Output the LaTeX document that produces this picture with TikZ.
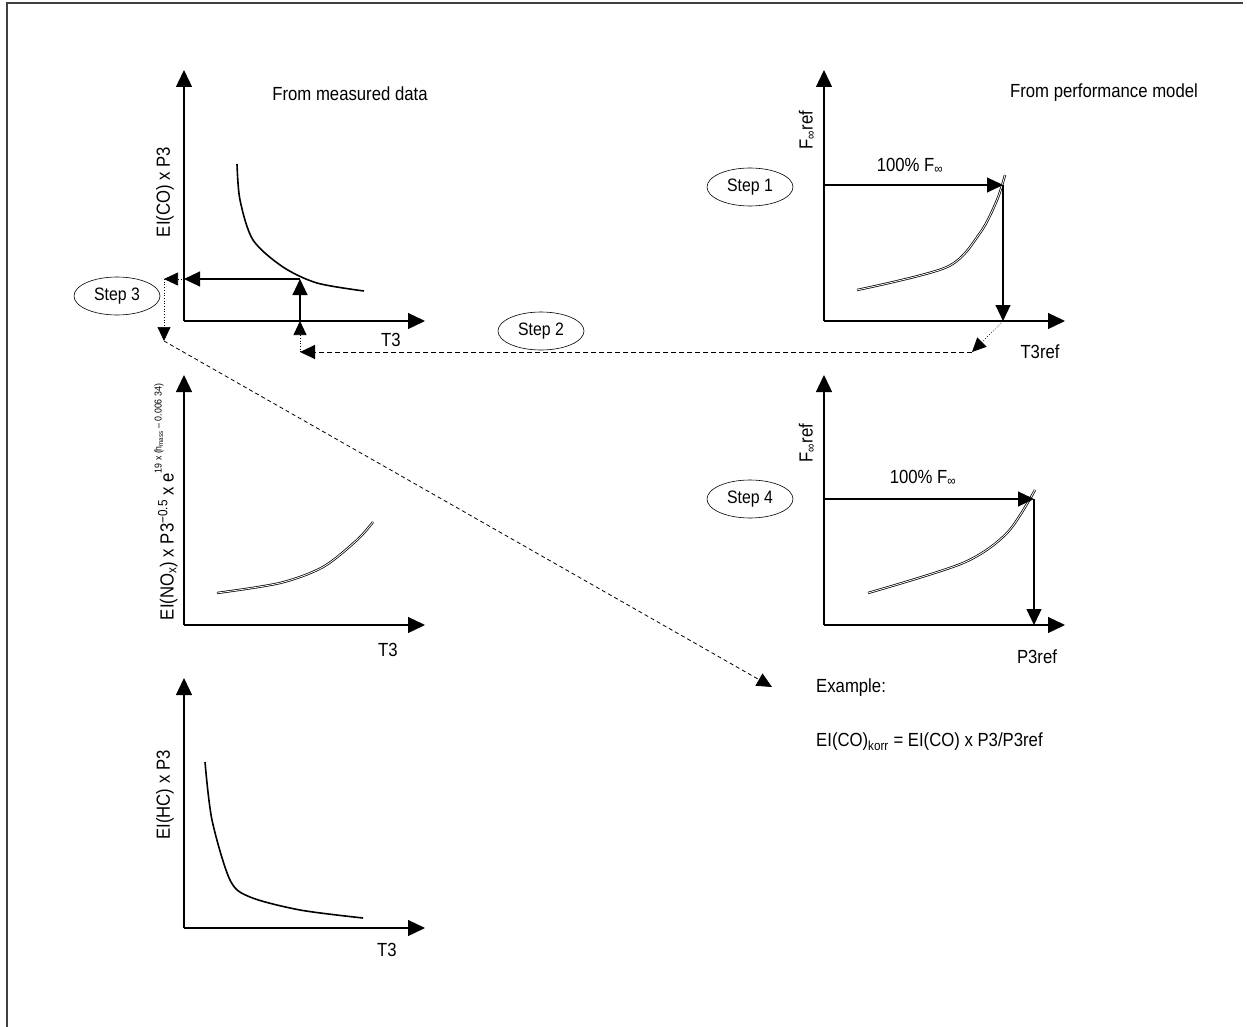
\documentclass[tikz,border=0pt]{standalone}
\usepackage{fontspec}
\setmainfont{Liberation Sans}[FakeStretch=0.88]
\usetikzlibrary{arrows.meta,shapes.geometric}

\begin{document}
\begin{tikzpicture}[x=1pt, y=-1pt,
        every node/.style={font=\fontsize{19}{22}\selectfont, inner sep=1pt},
        axis/.style={line width=1.3pt, -{Triangle[length=17pt,width=16pt]}},
        guide/.style={line width=1.1pt, -{Triangle[length=16pt,width=15pt]}},
        hint/.style={line width=0.7pt, dotted, -{Triangle[length=14pt,width=13pt]}},
        jump/.style={line width=1pt, dash pattern=on 5pt off 3pt, -{Triangle[length=15pt,width=14pt]}},
        curve/.style={line width=1.6pt},
        twincurve/.style={double, double distance=0.8pt, line width=0.75pt},
        stepbubble/.style={draw, ellipse, line width=0.6pt, minimum width=86pt, minimum height=38pt, inner sep=0pt, font=\fontsize{18}{20}\selectfont}]
        \useasboundingbox (0,0) rectangle (1247,1027);
        \draw[line width=1.6pt, black!75] (7,1027) -- (7,3) -- (1243,3);

        % EI(CO) from measured data
        \coordinate (co-o) at (184,321);
        \coordinate (co-y) at (184,70);
        \coordinate (co-x) at (425,321);
        \draw[axis] (co-o) -- (co-y);
        \draw[axis] (co-o) -- (co-x);
        \node[rotate=90] (co-lab) at (165,192) {EI(CO) x P3};
        \node (co-t3) at (391,340) {T3};
        \node (measured) at (350,94) {From measured data};
        \draw[curve] plot[smooth] coordinates {(237,164) (240,200) (253,240) (283,267) (317,283) (364,291)};

        % F ref over T3ref
        \coordinate (t3r-o) at (824,321);
        \coordinate (t3r-y) at (824,70);
        \coordinate (t3r-x) at (1065,321);
        \draw[axis] (t3r-o) -- (t3r-y);
        \draw[axis] (t3r-o) -- (t3r-x);
        \node[rotate=90] (t3r-lab) at (807,130) {F\textsubscript{∞}ref};
        \node (t3r-full) at (910,166) {100\% F\textsubscript{∞}};
        \node (t3r-t3) at (1040,352) {T3ref};
        \node (model) at (1104,93) {From performance model};
        \draw[twincurve] plot[smooth] coordinates {(857,290) (947,267) (980,233) (997,200) (1005,175)};

        % EI(NOx)
        \coordinate (nox-o) at (184,625);
        \coordinate (nox-y) at (184,375);
        \coordinate (nox-x) at (425,625);
        \draw[axis] (nox-o) -- (nox-y);
        \draw[axis] (nox-o) -- (nox-x);
        \node[rotate=90] (nox-lab) at (166,502) {EI(NO\textsubscript{x}) x P3\textsuperscript{−0.5} x e\raisebox{1.2ex}{\fontsize{10}{11}\selectfont 19 x (h\textsubscript{mass} – 0.006 34)}};
        \node (nox-t3) at (388,650) {T3};
        \draw[twincurve] plot[smooth] coordinates {(217,593) (280,583) (323,567) (357,540) (373,522)};

        % F ref over P3ref
        \coordinate (p3r-o) at (824,625);
        \coordinate (p3r-y) at (824,375);
        \coordinate (p3r-x) at (1065,625);
        \draw[axis] (p3r-o) -- (p3r-y);
        \draw[axis] (p3r-o) -- (p3r-x);
        \node[rotate=90] (p3r-lab) at (807,443) {F\textsubscript{∞}ref};
        \node (p3r-full) at (923,478) {100\% F\textsubscript{∞}};
        \node (p3r-p3) at (1037,657) {P3ref};
        \draw[twincurve] plot[smooth] coordinates {(868,593) (963,563) (1007,533) (1035,490)};

        % EI(HC)
        \coordinate (hc-o) at (184,928);
        \coordinate (hc-y) at (184,678);
        \coordinate (hc-x) at (425,928);
        \draw[axis] (hc-o) -- (hc-y);
        \draw[axis] (hc-o) -- (hc-x);
        \node[rotate=90] (hc-lab) at (165,795) {EI(HC) x P3};
        \node (hc-t3) at (387,950) {T3};
        \draw[curve] plot[smooth] coordinates {(205,762) (212,820) (230,880) (250,897) (300,910) (363,918)};

        \node[stepbubble] (step1) at (750,187) {Step 1};
        \node[stepbubble] (step2) at (541,331) {Step 2};
        \node[stepbubble] (step3) at (117,296) {Step 3};
        \node[stepbubble] (step4) at (750,499) {Step 4};

        \node[anchor=west] (example) at (815,688) {Example:};
        \node[anchor=west] (korr) at (815,742) {EI(CO)\textsubscript{korr} = EI(CO) x P3/P3ref};

        % step 1 and 4 readings
        \coordinate (t3r-level) at (824,185);
        \coordinate (t3r-hit) at (1003,185);
        \coordinate (t3r-foot) at (1003,321);
        \draw[guide] (t3r-level) -- (t3r-hit);
        \draw[guide] (t3r-hit) -- (t3r-foot);
        \coordinate (p3r-level) at (824,499);
        \coordinate (p3r-hit) at (1034,499);
        \coordinate (p3r-foot) at (1034,625);
        \draw[guide] (p3r-level) -- (p3r-hit);
        \draw[guide] (p3r-hit) -- (p3r-foot);

        % step 2 and 3 chain
        \coordinate (bend-r) at (972,352);
        \coordinate (bend-l) at (300,352);
        \coordinate (co-foot) at (300,321);
        \coordinate (co-hit) at (300,279);
        \coordinate (co-level) at (184,279);
        \coordinate (co-out) at (164,279);
        \coordinate (co-drop) at (164,341);
        \coordinate (ex-tip) at (772,687);
        \draw[hint] (t3r-foot) -- (bend-r);
        \draw[jump] (bend-r) -- (bend-l);
        \draw[hint] (bend-l) -- (co-foot);
        \draw[guide] (co-foot) -- (co-hit);
        \draw[guide] (co-hit) -- (co-level);
        \draw[hint] (co-level) -- (co-out);
        \draw[hint] (co-out) -- (co-drop);
        \draw[jump, line width=0.8pt, dash pattern=on 4pt off 3pt] (co-drop) -- (ex-tip);
\end{tikzpicture}
\end{document}
